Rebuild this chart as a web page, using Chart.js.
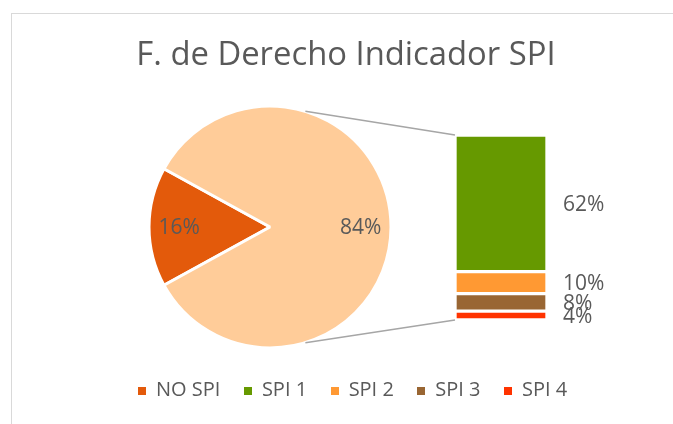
<!DOCTYPE html>
<html>
<head>
<meta charset="utf-8">
<script src="https://cdn.jsdelivr.net/npm/chart.js@4.4.1/dist/chart.umd.min.js"></script>
<style>
  html, body { margin: 0; padding: 0; background: #fff; }
  #wrap { position: relative; width: 673px; height: 424px; overflow: hidden; font-family: "Open Sans", sans-serif; color: #595959; }
  #frame { position: absolute; left: 11px; top: 13px; width: 700px; height: 450px; border: 1.5px solid #D9D9D9; box-sizing: border-box; }
  canvas { position: absolute; left: 0; top: 0; }
  #title { position: absolute; left: 0; width: 692px; top: 37px; text-align: center; font-size: 32.8px; line-height: 32.8px; white-space: nowrap; }
  #legend { position: absolute; left: 138px; top: 379px; display: flex; font-size: 20px; line-height: 20px; white-space: nowrap; }
  .item { display: flex; align-items: center; margin-right: 23.5px; }
  .sw { width: 8px; height: 8px; margin-right: 10px; position: relative; top: 2px; }
</style>
</head>
<body>
<div id="wrap">
  <div id="frame"></div>
  <canvas id="pie" width="673" height="424"></canvas>
  <canvas id="bar" width="673" height="424"></canvas>
  <div id="title"></div>
  <div id="legend"></div>
</div>
<script>
// ---- data ----
const chartTitle = 'F. de Derecho Indicador SPI';
const legendLabels = ['NO SPI', 'SPI 1', 'SPI 2', 'SPI 3', 'SPI 4'];
const pieLabels = ['NO SPI', 'SPI'];
const pieValues = [16, 84];
const barLabels = ['SPI 1', 'SPI 2', 'SPI 3', 'SPI 4'];
const barValues = [62, 10, 8, 4];

// ---- styles ----
const pieColors = ['#E35A0B', '#FFCC99'];
const barColors = ['#669900', '#FF9933', '#996633', '#FF3300'];
const legendColors = ['#E35A0B', '#669900', '#FF9933', '#996633', '#FF3300'];
const textColor = '#595959';
const labelFont = '21px "Open Sans"';

document.getElementById('title').textContent = chartTitle;
const leg = document.getElementById('legend');
legendLabels.forEach((l, i) => {
  const it = document.createElement('div'); it.className = 'item';
  const sw = document.createElement('span'); sw.className = 'sw'; sw.style.background = legendColors[i];
  const tx = document.createElement('span'); tx.textContent = l;
  it.appendChild(sw); it.appendChild(tx); leg.appendChild(it);
});

const pieTotal = pieValues.reduce((a, b) => a + b, 0);
const rotation = 270 - (pieValues[0] / pieTotal * 360) / 2;

const pieLabelPlugin = {
  id: 'pieLabels',
  afterDatasetsDraw(chart) {
    const ctx = chart.ctx;
    const meta = chart.getDatasetMeta(0);
    ctx.save();
    ctx.font = labelFont; ctx.fillStyle = textColor;
    ctx.textAlign = 'center'; ctx.textBaseline = 'middle';
    meta.data.forEach((arc, i) => {
      const mid = (arc.startAngle + arc.endAngle) / 2;
      const r = arc.outerRadius * 0.75;
      const pct = Math.round(pieValues[i] / pieTotal * 100) + '%';
      ctx.fillText(pct, arc.x + Math.cos(mid) * r, arc.y + Math.sin(mid) * r + 1);
    });
    ctx.restore();
  }
};

const pieChart = new Chart(document.getElementById('pie'), {
  type: 'pie',
  data: {
    labels: pieLabels,
    datasets: [{ data: pieValues, backgroundColor: pieColors, borderColor: '#ffffff', borderWidth: 3, hoverOffset: 0, offset: 0 }]
  },
  options: {
    responsive: false, animation: false, rotation: rotation,
    layout: { padding: { left: 147.5, right: 280.5, top: 104.5, bottom: 74.5 } },
    plugins: { legend: { display: false }, title: { display: false }, tooltip: { enabled: false } }
  },
  plugins: [pieLabelPlugin]
});

const barTotal = barValues.reduce((a, b) => a + b, 0);

const barLabelPlugin = {
  id: 'barLabels',
  afterDatasetsDraw(chart) {
    const ctx = chart.ctx;
    // connector lines from the pie to the stacked bar
    const arc = pieChart.getDatasetMeta(0).data[0];
    const ya = chart.scales.y;
    const xl = chart.chartArea.left;
    const ang = 73 * Math.PI / 180;
    ctx.save();
    ctx.strokeStyle = '#A6A6A6'; ctx.lineWidth = 1.5;
    ctx.beginPath();
    ctx.moveTo(arc.x + Math.cos(-ang) * arc.outerRadius, arc.y + Math.sin(-ang) * arc.outerRadius);
    ctx.lineTo(xl, ya.getPixelForValue(barTotal));
    ctx.moveTo(arc.x + Math.cos(ang) * arc.outerRadius, arc.y + Math.sin(ang) * arc.outerRadius);
    ctx.lineTo(xl, ya.getPixelForValue(0));
    ctx.stroke();
    // value labels
    ctx.font = labelFont; ctx.fillStyle = textColor;
    ctx.textAlign = 'left'; ctx.textBaseline = 'middle';
    chart.data.datasets.forEach((ds, di) => {
      const el = chart.getDatasetMeta(di).data[0];
      const cy = (el.y + el.base) / 2;
      ctx.fillText(ds.data[0] + '%', el.x + el.width / 2 + 16, cy + 1.5);
    });
    ctx.restore();
  }
};

const barDatasets = barLabels.map((l, i) => ({
  label: l, data: [barValues[i]], backgroundColor: barColors[i],
  borderColor: '#ffffff', borderWidth: 2, borderSkipped: false
})).reverse();

new Chart(document.getElementById('bar'), {
  type: 'bar',
  data: { labels: [''], datasets: barDatasets },
  options: {
    responsive: false, animation: false,
    layout: { padding: { left: 455, right: 126, top: 135, bottom: 104 } },
    datasets: { bar: { barPercentage: 1, categoryPercentage: 1 } },
    scales: {
      x: { stacked: true, display: false },
      y: { stacked: true, display: false, min: 0, max: barTotal }
    },
    plugins: { legend: { display: false }, title: { display: false }, tooltip: { enabled: false } }
  },
  plugins: [barLabelPlugin]
});
</script>
</body>
</html>
